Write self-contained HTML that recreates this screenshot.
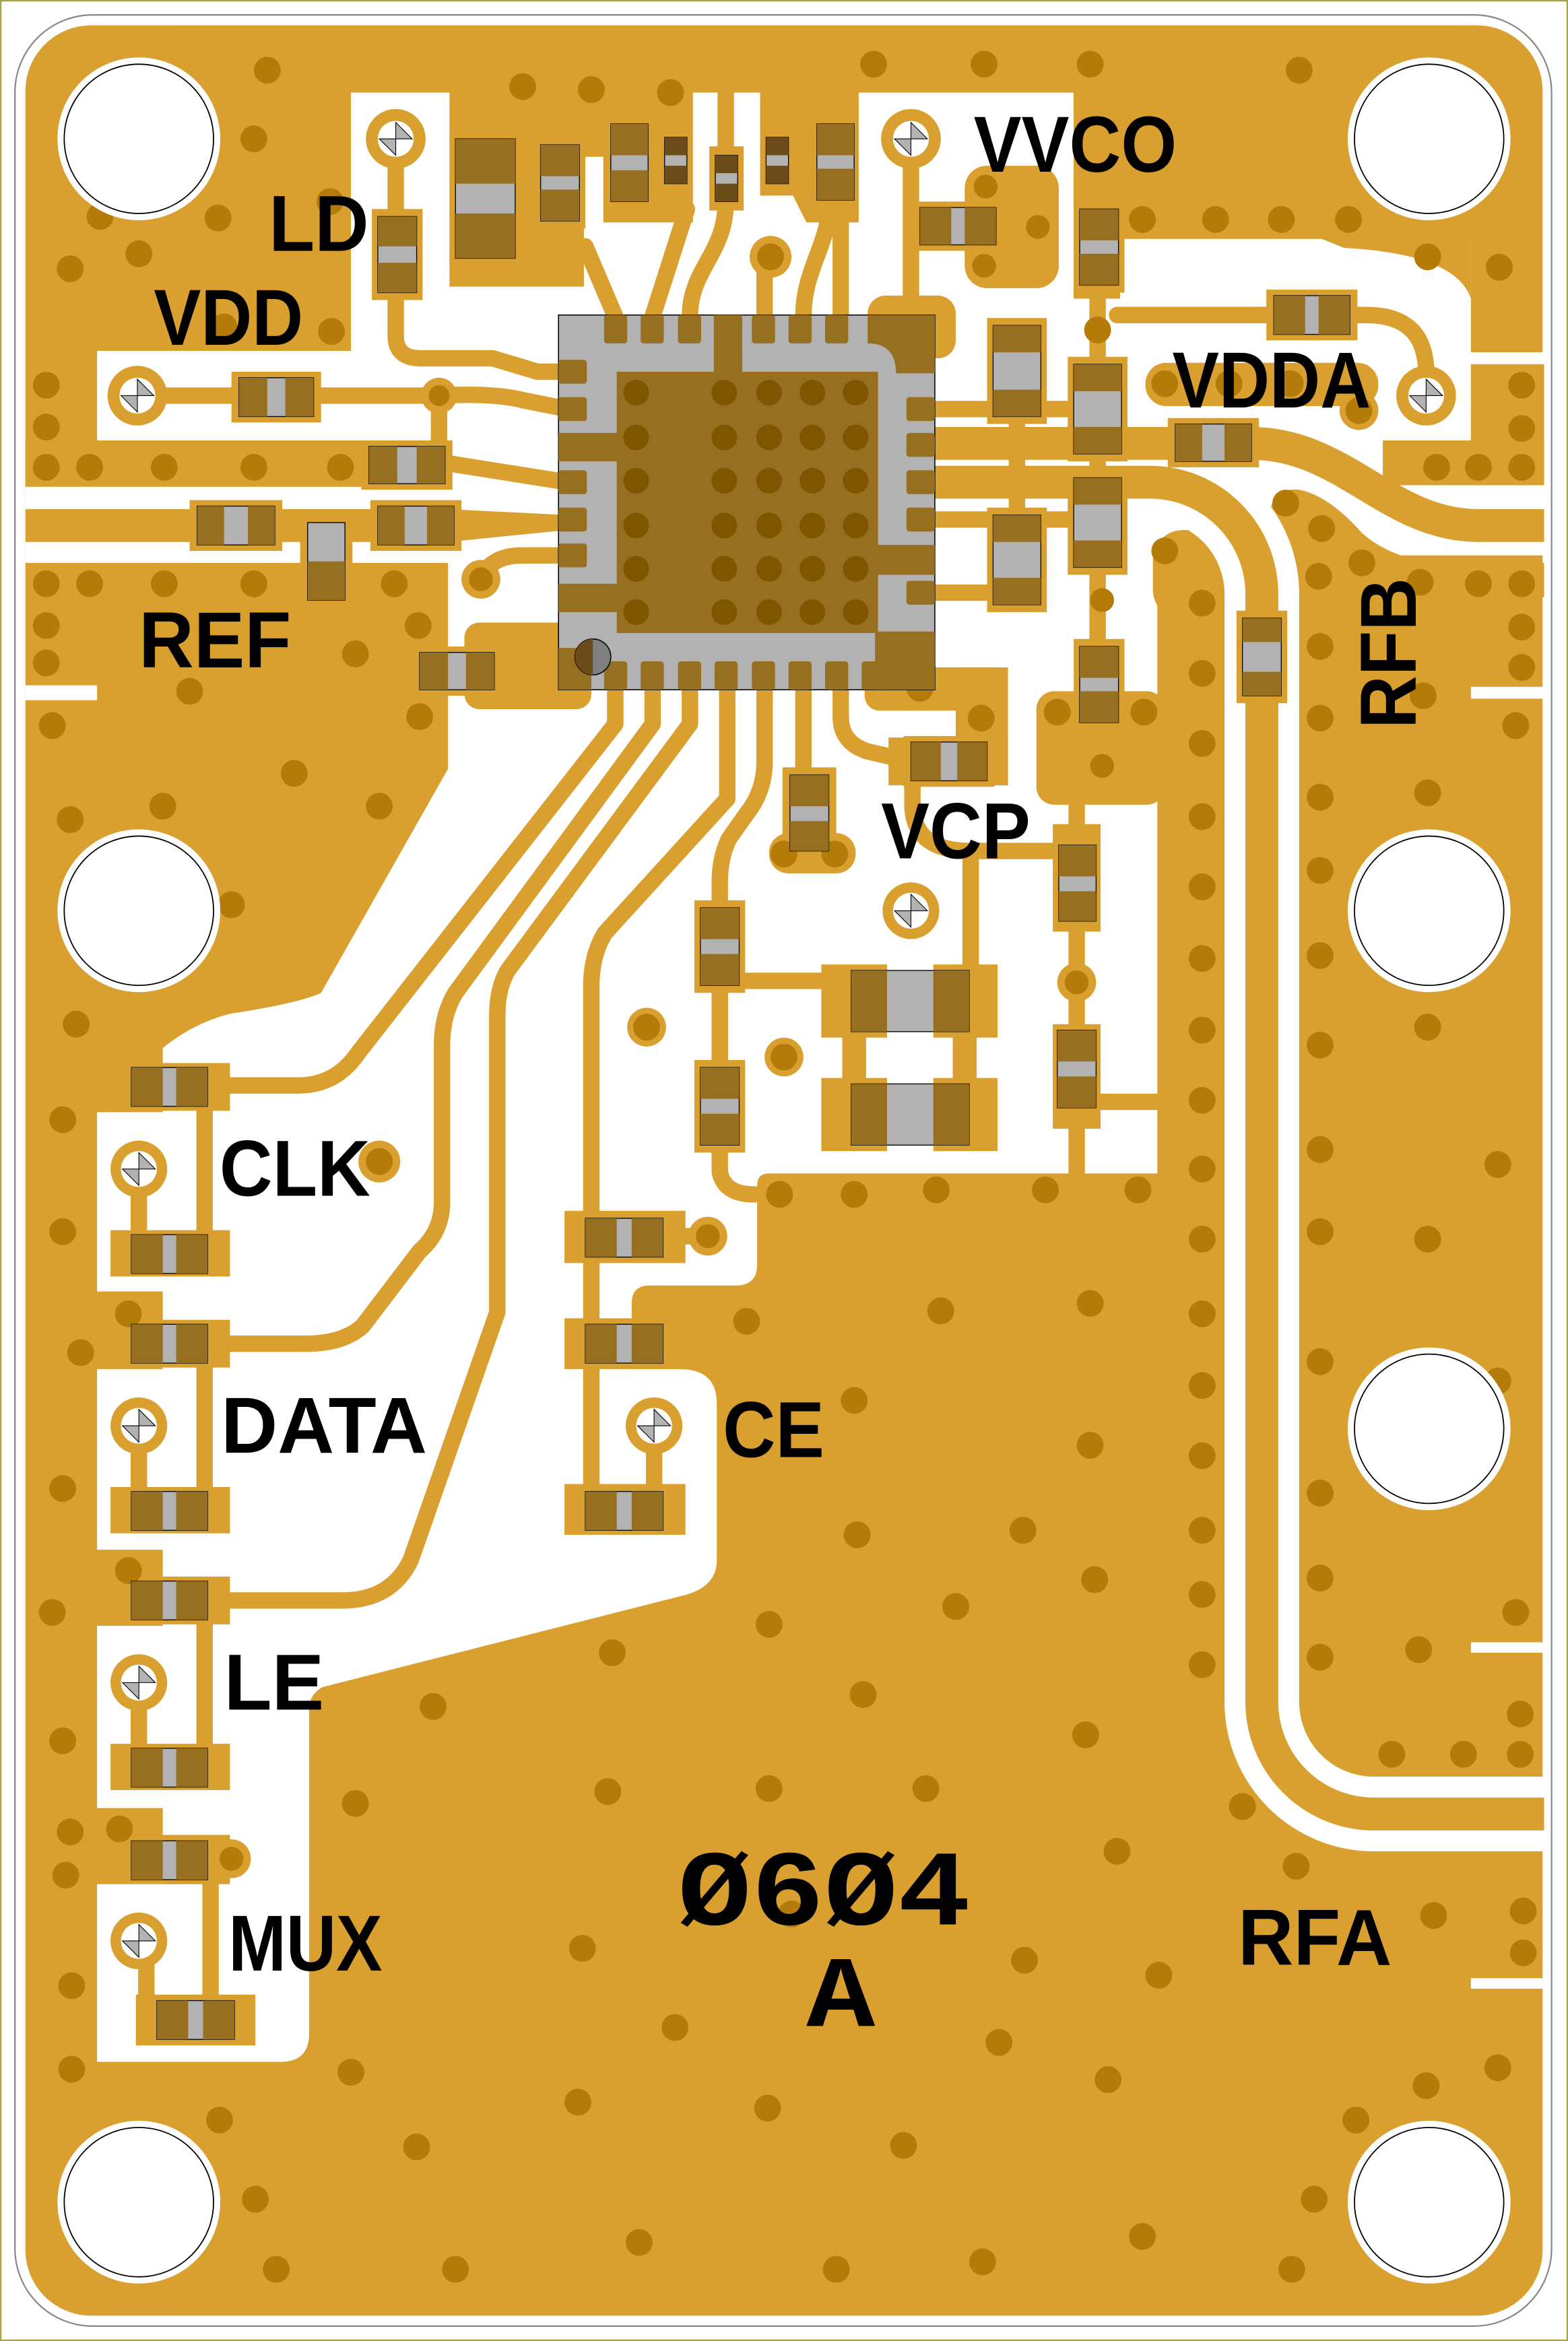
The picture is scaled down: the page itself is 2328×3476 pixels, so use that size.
<!DOCTYPE html>
<html><head><meta charset="utf-8"><style>
html,body{margin:0;padding:0;background:#fff}
svg{display:block}
.cg{fill:#B2B2B2;stroke:#000;stroke-width:.6}
.cd{fill:#967020}
.pd{fill:#D9A030}
.v{fill:#B47B08}
.t{stroke:#D9A030;fill:none;stroke-width:11;stroke-linecap:round;stroke-linejoin:round}
.lb{font-family:"Liberation Sans",sans-serif;font-weight:bold;font-size:53px;fill:#000}
</style></head><body>
<svg width="2328" height="3476" viewBox="0 0 1050 1568" preserveAspectRatio="none" xmlns="http://www.w3.org/2000/svg">
<rect x="0.5" y="0.5" width="1049" height="1567" fill="#fff" stroke="#a6a640" stroke-width="1"/>
<rect x="10" y="10" width="1029" height="1548" rx="52" fill="#fff" stroke="#888" stroke-width="1"/>
<rect x="17" y="17" width="1016" height="1534" rx="44" fill="#D9A030"/>

<!-- white cut region -->
<path fill="#fff" d="M235,62 H719 V200 H750 V160 H985 V236 H1034 V244 H985 V325 H1034 V372 H775 V786 H515 Q507,786 507,794 V847 Q507,861 493,861 H435 Q423,861 423,873 V917 H455 Q480,917 480,940 V1045 Q480,1062 460,1068 L216,1130 Q207,1135 207,1145 V1362 Q207,1381 188,1381 H65 V1262 H109 V1211 H65 V1089 H109 V1038 H65 V917 H109 V865 H65 V745 H109 V702 Q130,685 154,679 Q200,672 215,665 L300,515 V377 H17 V326 H300 V295 H65 V235 H235 Z"/>
<rect x="17" y="459" width="48" height="10" fill="#fff"/>
<rect x="985" y="460" width="49" height="8" fill="#fff"/>
<rect x="985" y="1100" width="49" height="7" fill="#fff"/>
<rect x="985" y="1325" width="49" height="7" fill="#fff"/>

<!-- gold blocks in white area -->
<g fill="#D9A030">
<path d="M880,158 H985 V200 Q975,170 900,166 Z"/>
<path d="M301,62 H464 V149 H404 V105 H391 V192 H301 Z"/>
<path d="M509,62 H575 V149 H540 L531,131 H509 Z"/>
<rect x="646" y="111" width="63" height="82" rx="15"/>
<rect x="719" y="62" width="31" height="138"/>
<rect x="581" y="198" width="59" height="42" rx="12"/>
<rect x="311" y="417" width="85" height="58" rx="10"/>
<rect x="579" y="447" width="96" height="29" rx="10"/>
<rect x="640" y="447" width="35" height="79"/>
<rect x="595" y="494" width="80" height="32"/>
<rect x="694" y="463" width="86" height="76" rx="12"/>
<rect x="767" y="243" width="156" height="29" rx="14"/>
<circle cx="910" cy="275" r="13"/>
<rect x="926" y="295" width="108" height="30"/>
<rect x="985" y="244" width="49" height="81"/>
<path d="M850,345 Q852,326 870,328 Q890,332 912,357 Q935,377 971,377 H1034 V400 H850 Z"/>
<rect x="772" y="355" width="48" height="60" rx="20"/>
<rect x="515" y="558" width="58" height="27" rx="13"/>
<rect x="550" y="646" width="44" height="49"/><rect x="625" y="646" width="43" height="49"/>
<rect x="550" y="722" width="44" height="49"/><rect x="625" y="722" width="43" height="49"/>
<rect x="564" y="690" width="16" height="40"/><rect x="638" y="690" width="16" height="40"/>
</g>

<!-- RFA channel + trace -->
<path d="M625,323 H770 A75,75 0 0 1 845,398 V1140 A75,75 0 0 0 920,1215 H1034" fill="none" stroke="#fff" stroke-width="50"/>
<path d="M625,323 H770 A75,75 0 0 1 845,398 V1140 A75,75 0 0 0 920,1215 H1034" fill="none" stroke="#D9A030" stroke-width="22"/>
<!-- RFB -->
<path d="M620,297 H838 C900,297 930,352 990,352 H1034" fill="none" stroke="#D9A030" stroke-width="22"/>
<!-- REF -->
<path d="M17,341 H300 L380,345 V355 L300,363 H17 Z" fill="#D9A030"/>
<rect x="17" y="295" width="283" height="31" fill="#D9A030"/>

<!-- traces -->
<g class="t">
<path d="M265,93 V225 Q265,240 282,240 H330 L360,249 H380"/>
<path d="M92,265 H294 Q330,263 350,268 L380,274"/>
<path d="M294,265 V305"/>
<path d="M298,310 L380,323"/>
<path d="M322,388 Q328,372 350,372 H380"/>
<path d="M412,212 L392,165"/>
<path d="M437,212 L460,140"/>
<path d="M462,212 C462,180 486,170 486,135 V62"/>
<path d="M512,212 V175"/>
<path d="M538,212 C538,180 555,165 556,134"/>
<path d="M563,212 V150"/>
<path d="M610,93 V200"/>
<path d="M610,151 H640"/>
<path d="M620,274 H735"/>
<path d="M620,348 H735"/>
<path d="M620,397 H681"/>
<path d="M735,191 V244 M735,304 V320 M735,380 V433 M681,279 V345"/>
<path d="M748,211 H860"/>
<path d="M904,211 H915 Q955,211 955,250"/>
<path d="M412,462 V485 L240,705 Q225,727 200,727 H150"/>
<path d="M437,462 V485 L305,665 Q296,680 296,700 V805 Q296,825 281,838 L243,888 Q230,900 205,900 H150"/>
<path d="M462,462 V485 L340,650 Q333,662 333,680 V879 L275,1045 Q262,1072 229,1072 H150"/>
<path d="M487,462 V535 L405,625 Q396,640 396,660 V1010"/>
<path d="M512,462 V510 Q512,530 500,545 L488,562 Q482,575 482,590 V785 Q485,800 505,800"/>
<path d="M538,462 V520"/>
<path d="M563,462 V480 Q563,497 580,503 L610,510"/>
<path d="M611,523 V540 Q612,570 650,570 H720"/>
<path d="M650,570 V650"/>
<path d="M482,660 V715"/>
<path d="M495,657 H555"/>
<path d="M721,540 V566 M721,617 V690 M721,742 V785 M737,738 H780"/>
<path d="M137,727 V840 M93,783 V830"/>
<path d="M137,900 V1012 M93,955 V1005"/>
<path d="M137,1072 V1184 M93,1127 V1178"/>
<path d="M141,1246 V1350 M98,1300 V1345"/>
<path d="M438,955 V1010 M443,828 H474"/>
</g>

<!-- pads -->
<g class="pd">
<rect x="155" y="249" width="60" height="34"/><rect x="242" y="295" width="61" height="33"/>
<rect x="127" y="335" width="62" height="34"/><rect x="248" y="335" width="61" height="34"/>
<rect x="276" y="433" width="60" height="33"/><rect x="611" y="135" width="61" height="33"/>
<rect x="848" y="194" width="61" height="34"/><rect x="782" y="280" width="61" height="33"/>
<rect x="605" y="493" width="61" height="34"/>
<rect x="109" y="712" width="45" height="32"/><rect x="74" y="824" width="80" height="31"/>
<rect x="109" y="884" width="45" height="32"/><rect x="74" y="996" width="80" height="31"/>
<rect x="109" y="1056" width="45" height="32"/><rect x="74" y="1168" width="80" height="31"/>
<rect x="109" y="1229" width="45" height="33"/><rect x="91" y="1336" width="80" height="34"/>
<rect x="378" y="811" width="81" height="35"/><rect x="378" y="883" width="81" height="34"/><rect x="378" y="994" width="81" height="34"/>
<rect x="249" y="140" width="34" height="61"/><rect x="301" y="88" width="48" height="90"/>
<rect x="358" y="92" width="34" height="61"/><rect x="719" y="135" width="34" height="61"/>
<rect x="661" y="213" width="40" height="71"/><rect x="715" y="239" width="40" height="70"/>
<rect x="715" y="315" width="40" height="70"/><rect x="661" y="340" width="40" height="70"/>
<rect x="719" y="428" width="34" height="61"/><rect x="828" y="409" width="34" height="62"/>
<rect x="524" y="514" width="36" height="61"/><rect x="705" y="552" width="32" height="72"/>
<rect x="465" y="603" width="34" height="62"/><rect x="465" y="710" width="34" height="62"/>
<rect x="705" y="686" width="32" height="70"/><rect x="201" y="345" width="35" height="62"/>
<rect x="475" y="98" width="23" height="43"/>
</g>

<!-- gold vias / test point blobs -->
<g fill="#D9A030">
<circle cx="294" cy="265" r="12"/><circle cx="322" cy="388" r="13"/>
<circle cx="516" cy="172" r="14"/><circle cx="721" cy="658" r="13"/>
<circle cx="433" cy="688" r="13"/><circle cx="525" cy="708" r="13"/>
<circle cx="254" cy="778" r="14"/><circle cx="474" cy="828" r="13"/>
<circle cx="155" cy="1245" r="13"/>
</g>

<!-- test points -->
<g>
<g fill="#D9A030"><circle cx="265" cy="93" r="20"/><circle cx="610" cy="93" r="20"/><circle cx="92" cy="265" r="20"/><circle cx="955" cy="265" r="20"/><circle cx="610" cy="610" r="19"/><circle cx="93" cy="783" r="19"/><circle cx="93" cy="955" r="19"/><circle cx="93" cy="1127" r="19"/><circle cx="93" cy="1300" r="19"/><circle cx="438" cy="955" r="19"/></g>
<g fill="#fff"><circle cx="265" cy="93" r="12"/><circle cx="610" cy="93" r="12"/><circle cx="92" cy="265" r="12"/><circle cx="955" cy="265" r="12"/><circle cx="610" cy="610" r="12"/><circle cx="93" cy="783" r="12"/><circle cx="93" cy="955" r="12"/><circle cx="93" cy="1127" r="12"/><circle cx="93" cy="1300" r="12"/><circle cx="438" cy="955" r="12"/></g>
<g fill="#B2B2B2" stroke="#000" stroke-width=".5">
<path d="M265,82 L276,93 H265Z M254,93 H265 V104Z"/>
<path d="M610,82 L621,93 H610Z M599,93 H610 V104Z"/>
<path d="M92,254 L103,265 H92Z M81,265 H92 V276Z"/>
<path d="M955,254 L966,265 H955Z M944,265 H955 V276Z"/>
<path d="M610,599 L621,610 H610Z M599,610 H610 V621Z"/>
<path d="M93,772 L104,783 H93Z M82,783 H93 V794Z"/>
<path d="M93,944 L104,955 H93Z M82,955 H93 V966Z"/>
<path d="M93,1116 L104,1127 H93Z M82,1127 H93 V1138Z"/>
<path d="M93,1289 L104,1300 H93Z M82,1300 H93 V1311Z"/>
<path d="M438,944 L449,955 H438Z M427,955 H438 V966Z"/>
</g></g>

<!-- vias -->
<g class="v">
<circle cx="179" cy="47" r="9"/><circle cx="350" cy="58" r="9"/><circle cx="396" cy="60" r="9"/><circle cx="449" cy="62" r="9"/>
<circle cx="585" cy="43" r="9"/><circle cx="659" cy="43" r="9"/><circle cx="730" cy="43" r="9"/><circle cx="870" cy="47" r="9"/>
<circle cx="170" cy="93" r="9"/><circle cx="146" cy="146" r="9"/><circle cx="93" cy="170" r="9"/><circle cx="47" cy="180" r="9"/>
<circle cx="221" cy="135" r="9"/><circle cx="150" cy="219" r="9"/><circle cx="222" cy="222" r="9"/><circle cx="67" cy="145" r="9"/>
<circle cx="660" cy="125" r="8"/><circle cx="695" cy="152" r="8"/><circle cx="659" cy="178" r="8"/>
<circle cx="765" cy="147" r="9"/><circle cx="814" cy="147" r="9"/><circle cx="858" cy="147" r="9"/><circle cx="903" cy="147" r="9"/>
<circle cx="956" cy="172" r="9"/><circle cx="1004" cy="179" r="9"/><circle cx="735" cy="221" r="9"/>
<circle cx="780" cy="257" r="9"/><circle cx="823" cy="257" r="9"/><circle cx="864" cy="257" r="9"/><circle cx="910" cy="275" r="9"/>
<circle cx="1019" cy="258" r="9"/><circle cx="1019" cy="287" r="9"/><circle cx="962" cy="313" r="9"/><circle cx="990" cy="313" r="9"/><circle cx="1019" cy="313" r="9"/>
<circle cx="861" cy="337" r="9"/><circle cx="885" cy="354" r="9"/><circle cx="912" cy="377" r="9"/><circle cx="883" cy="386" r="9"/><circle cx="951" cy="390" r="9"/><circle cx="990" cy="391" r="9"/><circle cx="1019" cy="391" r="9"/><circle cx="1019" cy="420" r="9"/><circle cx="1019" cy="447" r="9"/>
<circle cx="884" cy="433" r="9"/><circle cx="953" cy="466" r="9"/><circle cx="884" cy="481" r="9"/><circle cx="1015" cy="486" r="9"/><circle cx="884" cy="534" r="9"/><circle cx="956" cy="531" r="9"/><circle cx="884" cy="583" r="9"/><circle cx="884" cy="640" r="9"/><circle cx="884" cy="700" r="9"/><circle cx="956" cy="688" r="9"/><circle cx="884" cy="770" r="9"/><circle cx="1003" cy="780" r="9"/><circle cx="884" cy="825" r="9"/><circle cx="956" cy="830" r="9"/><circle cx="884" cy="912" r="9"/><circle cx="1003" cy="925" r="9"/><circle cx="884" cy="1000" r="9"/><circle cx="884" cy="1057" r="9"/><circle cx="1015" cy="1080" r="9"/><circle cx="950" cy="1105" r="9"/><circle cx="884" cy="1110" r="9"/><circle cx="1018" cy="1148" r="9"/><circle cx="932" cy="1175" r="9"/><circle cx="980" cy="1175" r="9"/><circle cx="1018" cy="1175" r="9"/>
<circle cx="780" cy="369" r="9"/><circle cx="805" cy="404" r="9"/><circle cx="805" cy="451" r="9"/><circle cx="805" cy="498" r="9"/><circle cx="805" cy="547" r="9"/><circle cx="805" cy="594" r="9"/><circle cx="805" cy="642" r="9"/><circle cx="805" cy="690" r="9"/><circle cx="805" cy="737" r="9"/><circle cx="805" cy="783" r="9"/><circle cx="805" cy="830" r="9"/><circle cx="805" cy="880" r="9"/><circle cx="805" cy="928" r="9"/><circle cx="805" cy="975" r="9"/><circle cx="805" cy="1025" r="9"/><circle cx="805" cy="1068" r="9"/><circle cx="805" cy="1115" r="9"/><circle cx="832" cy="1210" r="9"/>
<circle cx="738" cy="402" r="8"/><circle cx="708" cy="477" r="9"/><circle cx="766" cy="477" r="9"/><circle cx="738" cy="513" r="8"/><circle cx="616" cy="461" r="9"/><circle cx="657" cy="481" r="9"/><circle cx="525" cy="572" r="9"/><circle cx="559" cy="572" r="9"/>
<circle cx="294" cy="265" r="7"/><circle cx="322" cy="388" r="8"/><circle cx="516" cy="172" r="9"/><circle cx="721" cy="658" r="8"/><circle cx="433" cy="688" r="9"/><circle cx="525" cy="708" r="9"/><circle cx="254" cy="778" r="9"/><circle cx="474" cy="828" r="8"/><circle cx="155" cy="1245" r="8"/>
<circle cx="31" cy="258" r="9"/><circle cx="31" cy="286" r="9"/><circle cx="31" cy="313" r="9"/><circle cx="60" cy="313" r="9"/><circle cx="110" cy="313" r="9"/><circle cx="170" cy="313" r="9"/><circle cx="228" cy="313" r="9"/>
<circle cx="31" cy="391" r="9"/><circle cx="60" cy="391" r="9"/><circle cx="110" cy="391" r="9"/><circle cx="170" cy="391" r="9"/><circle cx="264" cy="391" r="9"/><circle cx="31" cy="419" r="9"/><circle cx="280" cy="419" r="9"/><circle cx="31" cy="444" r="9"/><circle cx="238" cy="438" r="9"/><circle cx="127" cy="463" r="9"/><circle cx="35" cy="486" r="9"/><circle cx="281" cy="480" r="9"/><circle cx="197" cy="518" r="9"/><circle cx="254" cy="540" r="9"/><circle cx="109" cy="540" r="9"/><circle cx="47" cy="549" r="9"/><circle cx="155" cy="606" r="9"/><circle cx="51" cy="686" r="9"/>
<circle cx="42" cy="750" r="9"/><circle cx="42" cy="825" r="9"/><circle cx="54" cy="906" r="9"/><circle cx="42" cy="997" r="9"/><circle cx="35" cy="1080" r="9"/><circle cx="42" cy="1166" r="9"/><circle cx="47" cy="1227" r="9"/><circle cx="44" cy="1256" r="9"/><circle cx="48" cy="1330" r="9"/><circle cx="48" cy="1386" r="9"/>
<circle cx="86" cy="880" r="9"/><circle cx="86" cy="1052" r="9"/><circle cx="80" cy="1225" r="9"/>
<circle cx="522" cy="800" r="9"/><circle cx="572" cy="800" r="9"/><circle cx="627" cy="797" r="9"/><circle cx="700" cy="797" r="9"/><circle cx="762" cy="797" r="9"/>
<circle cx="500" cy="885" r="9"/><circle cx="630" cy="878" r="9"/><circle cx="730" cy="873" r="9"/><circle cx="572" cy="938" r="9"/><circle cx="730" cy="968" r="9"/><circle cx="574" cy="1028" r="9"/><circle cx="685" cy="1025" r="9"/><circle cx="515" cy="1088" r="9"/><circle cx="640" cy="1076" r="9"/><circle cx="733" cy="1058" r="9"/><circle cx="410" cy="1107" r="9"/><circle cx="290" cy="1143" r="9"/><circle cx="578" cy="1135" r="9"/><circle cx="727" cy="1162" r="9"/>
<circle cx="238" cy="1208" r="9"/><circle cx="407" cy="1200" r="9"/><circle cx="515" cy="1198" r="9"/><circle cx="620" cy="1198" r="9"/><circle cx="748" cy="1240" r="9"/><circle cx="868" cy="1250" r="9"/><circle cx="960" cy="1283" r="9"/><circle cx="1020" cy="1280" r="9"/><circle cx="1020" cy="1308" r="9"/>
<circle cx="390" cy="1305" r="9"/><circle cx="530" cy="1282" r="9"/><circle cx="686" cy="1313" r="9"/><circle cx="776" cy="1323" r="9"/><circle cx="452" cy="1358" r="9"/><circle cx="669" cy="1368" r="9"/><circle cx="235" cy="1388" r="9"/><circle cx="387" cy="1408" r="9"/><circle cx="514" cy="1412" r="9"/><circle cx="605" cy="1437" r="9"/><circle cx="742" cy="1393" r="9"/><circle cx="908" cy="1420" r="9"/><circle cx="1003" cy="1385" r="9"/><circle cx="955" cy="1397" r="9"/><circle cx="147" cy="1420" r="9"/>
<circle cx="279" cy="1438" r="9"/><circle cx="171" cy="1473" r="9"/><circle cx="880" cy="1473" r="9"/><circle cx="185" cy="1520" r="9"/><circle cx="305" cy="1520" r="9"/><circle cx="428" cy="1502" r="9"/><circle cx="560" cy="1520" r="9"/><circle cx="658" cy="1515" r="9"/><circle cx="765" cy="1498" r="9"/><circle cx="865" cy="1520" r="9"/>
</g>

<!-- chip -->
<g>
<rect x="374" y="211" width="252" height="251" fill="#B2B2B2" stroke="#000" stroke-width=".7"/>
<g fill="#967020">
<rect x="413" y="249" width="175" height="175"/>
<rect x="478" y="211" width="19" height="40"/>
<rect x="374" y="290" width="40" height="19"/><rect x="374" y="391" width="40" height="19"/>
<rect x="586" y="365" width="40" height="20"/>
<path d="M581,211 H626 V250 H600 Q600,230 581,230 Z"/>
<rect x="586" y="423" width="40" height="39"/>
<rect x="374" y="434" width="22" height="28"/>
<rect x="404.5" y="211" width="15.5" height="19" rx="2"/><rect x="429" y="211" width="15.5" height="19" rx="2"/><rect x="454" y="211" width="15.5" height="19" rx="2"/><rect x="503.5" y="211" width="15.5" height="19" rx="2"/><rect x="528" y="211" width="15.5" height="19" rx="2"/><rect x="552.5" y="211" width="15.5" height="19" rx="2"/>
<rect x="404.5" y="443" width="15.5" height="19" rx="2"/><rect x="429" y="443" width="15.5" height="19" rx="2"/><rect x="454" y="443" width="15.5" height="19" rx="2"/><rect x="478.5" y="443" width="15.5" height="19" rx="2"/><rect x="503.5" y="443" width="15.5" height="19" rx="2"/><rect x="528" y="443" width="15.5" height="19" rx="2"/><rect x="552.5" y="443" width="15.5" height="19" rx="2"/><rect x="577" y="443" width="20" height="19" rx="2"/>
<rect x="374" y="241" width="19" height="16" rx="2"/><rect x="374" y="266" width="19" height="16" rx="2"/><rect x="374" y="315" width="19" height="16" rx="2"/><rect x="374" y="340" width="19" height="16" rx="2"/><rect x="374" y="364" width="19" height="16" rx="2"/>
<rect x="607" y="266" width="19" height="16" rx="2"/><rect x="607" y="290" width="19" height="16" rx="2"/><rect x="607" y="315" width="19" height="16" rx="2"/><rect x="607" y="340" width="19" height="16" rx="2"/><rect x="607" y="389" width="19" height="16" rx="2"/>
</g>
<g fill="#805500">
<circle cx="426" cy="263" r="8.6"/><circle cx="485" cy="263" r="8.6"/><circle cx="515" cy="263" r="8.6"/><circle cx="544" cy="263" r="8.6"/><circle cx="573" cy="263" r="8.6"/>
<circle cx="426" cy="293" r="8.6"/><circle cx="485" cy="293" r="8.6"/><circle cx="515" cy="293" r="8.6"/><circle cx="544" cy="293" r="8.6"/><circle cx="573" cy="293" r="8.6"/>
<circle cx="426" cy="322" r="8.6"/><circle cx="485" cy="322" r="8.6"/><circle cx="515" cy="322" r="8.6"/><circle cx="544" cy="322" r="8.6"/><circle cx="573" cy="322" r="8.6"/>
<circle cx="426" cy="352" r="8.6"/><circle cx="485" cy="352" r="8.6"/><circle cx="515" cy="352" r="8.6"/><circle cx="544" cy="352" r="8.6"/><circle cx="573" cy="352" r="8.6"/>
<circle cx="426" cy="381" r="8.6"/><circle cx="485" cy="381" r="8.6"/><circle cx="515" cy="381" r="8.6"/><circle cx="544" cy="381" r="8.6"/><circle cx="573" cy="381" r="8.6"/>
<circle cx="426" cy="410" r="8.6"/><circle cx="485" cy="410" r="8.6"/><circle cx="515" cy="410" r="8.6"/><circle cx="544" cy="410" r="8.6"/><circle cx="573" cy="410" r="8.6"/>
</g>
<circle cx="397" cy="440" r="12" fill="#808080" stroke="#000" stroke-width=".7"/>
<path d="M397,428 A12,12 0 0 0 397,452 Z" fill="#6b4c1a"/>
</g>

<!-- components horizontal -->
<g>
<rect class="cg" x="160" y="253" width="50" height="26"/><rect class="cd" x="160" y="253" width="19" height="26"/><rect class="cd" x="191" y="253" width="19" height="26"/>
<rect class="cg" x="247" y="299" width="51" height="25"/><rect class="cd" x="247" y="299" width="19" height="25"/><rect class="cd" x="279" y="299" width="19" height="25"/>
<rect class="cg" x="132" y="339" width="52" height="26"/><rect class="cd" x="132" y="339" width="18" height="26"/><rect class="cd" x="166" y="339" width="18" height="26"/>
<rect class="cg" x="253" y="339" width="51" height="26"/><rect class="cd" x="253" y="339" width="18" height="26"/><rect class="cd" x="286" y="339" width="18" height="26"/>
<rect class="cg" x="281" y="437" width="50" height="25"/><rect class="cd" x="281" y="437" width="19" height="25"/><rect class="cd" x="312" y="437" width="19" height="25"/>
<rect class="cg" x="616" y="139" width="51" height="25"/><rect class="cd" x="616" y="139" width="21" height="25"/><rect class="cd" x="646" y="139" width="21" height="25"/>
<rect class="cg" x="853" y="198" width="51" height="26"/><rect class="cd" x="853" y="198" width="21" height="26"/><rect class="cd" x="883" y="198" width="21" height="26"/>
<rect class="cg" x="787" y="284" width="51" height="25"/><rect class="cd" x="787" y="284" width="18" height="25"/><rect class="cd" x="820" y="284" width="18" height="25"/>
<rect class="cg" x="610" y="497" width="51" height="26"/><rect class="cd" x="610" y="497" width="20" height="26"/><rect class="cd" x="641" y="497" width="20" height="26"/>
<rect class="cg" x="570" y="650" width="79" height="41"/><rect class="cd" x="570" y="650" width="24" height="41"/><rect class="cd" x="625" y="650" width="24" height="41"/>
<rect class="cg" x="570" y="726" width="79" height="41"/><rect class="cd" x="570" y="726" width="24" height="41"/><rect class="cd" x="625" y="726" width="24" height="41"/>
<rect class="cg" x="88" y="715" width="51" height="26"/><rect class="cd" x="88" y="715" width="21" height="26"/><rect class="cd" x="118" y="715" width="21" height="26"/>
<rect class="cg" x="88" y="827" width="51" height="26"/><rect class="cd" x="88" y="827" width="21" height="26"/><rect class="cd" x="118" y="827" width="21" height="26"/>
<rect class="cg" x="88" y="887" width="51" height="26"/><rect class="cd" x="88" y="887" width="21" height="26"/><rect class="cd" x="118" y="887" width="21" height="26"/>
<rect class="cg" x="88" y="999" width="51" height="26"/><rect class="cd" x="88" y="999" width="21" height="26"/><rect class="cd" x="118" y="999" width="21" height="26"/>
<rect class="cg" x="88" y="1059" width="51" height="26"/><rect class="cd" x="88" y="1059" width="21" height="26"/><rect class="cd" x="118" y="1059" width="21" height="26"/>
<rect class="cg" x="88" y="1171" width="51" height="26"/><rect class="cd" x="88" y="1171" width="21" height="26"/><rect class="cd" x="118" y="1171" width="21" height="26"/>
<rect class="cg" x="88" y="1233" width="51" height="26"/><rect class="cd" x="88" y="1233" width="21" height="26"/><rect class="cd" x="118" y="1233" width="21" height="26"/>
<rect class="cg" x="105" y="1340" width="52" height="26"/><rect class="cd" x="105" y="1340" width="21" height="26"/><rect class="cd" x="136" y="1340" width="21" height="26"/>
<rect class="cg" x="392" y="816" width="52" height="26"/><rect class="cd" x="392" y="816" width="21" height="26"/><rect class="cd" x="423" y="816" width="21" height="26"/>
<rect class="cg" x="392" y="887" width="52" height="26"/><rect class="cd" x="392" y="887" width="21" height="26"/><rect class="cd" x="423" y="887" width="21" height="26"/>
<rect class="cg" x="392" y="999" width="52" height="26"/><rect class="cd" x="392" y="999" width="21" height="26"/><rect class="cd" x="423" y="999" width="21" height="26"/>
</g>
<!-- components vertical -->
<g>
<rect class="cg" x="253" y="145" width="26" height="51"/><rect class="cd" x="253" y="145" width="26" height="20"/><rect class="cd" x="253" y="176" width="26" height="20"/>
<rect class="cg" x="305" y="93" width="40" height="80"/><rect class="cd" x="305" y="93" width="40" height="30"/><rect class="cd" x="305" y="143" width="40" height="30"/>
<rect class="cg" x="362" y="97" width="26" height="51"/><rect class="cd" x="362" y="97" width="26" height="21"/><rect class="cd" x="362" y="127" width="26" height="21"/>
<rect class="cg" x="409" y="83" width="25" height="52"/><rect class="cd" x="409" y="83" width="25" height="21"/><rect class="cd" x="409" y="114" width="25" height="21"/>
<rect class="cg" x="445" y="92" width="15" height="31"/><rect x="445" y="92" width="15" height="12" style="fill:#6b4c1a"/><rect x="445" y="111" width="15" height="12" style="fill:#6b4c1a"/>
<rect class="cg" x="479" y="104" width="15" height="31"/><rect x="479" y="104" width="15" height="12" style="fill:#6b4c1a"/><rect x="479" y="123" width="15" height="12" style="fill:#6b4c1a"/>
<rect class="cg" x="513" y="92" width="15" height="31"/><rect x="513" y="92" width="15" height="12" style="fill:#6b4c1a"/><rect x="513" y="111" width="15" height="12" style="fill:#6b4c1a"/>
<rect class="cg" x="547" y="83" width="25" height="51"/><rect class="cd" x="547" y="83" width="25" height="21"/><rect class="cd" x="547" y="113" width="25" height="21"/>
<rect class="cg" x="723" y="140" width="26" height="51"/><rect class="cd" x="723" y="140" width="26" height="21"/><rect class="cd" x="723" y="170" width="26" height="21"/>
<rect class="cg" x="665" y="218" width="32" height="61"/><rect class="cd" x="665" y="218" width="32" height="18"/><rect class="cd" x="665" y="261" width="32" height="18"/>
<rect class="cg" x="719" y="244" width="32" height="60"/><rect class="cd" x="719" y="244" width="32" height="18"/><rect class="cd" x="719" y="286" width="32" height="18"/>
<rect class="cg" x="719" y="320" width="32" height="60"/><rect class="cd" x="719" y="320" width="32" height="18"/><rect class="cd" x="719" y="362" width="32" height="18"/>
<rect class="cg" x="665" y="345" width="32" height="60"/><rect class="cd" x="665" y="345" width="32" height="18"/><rect class="cd" x="665" y="387" width="32" height="18"/>
<rect class="cg" x="723" y="433" width="26" height="51"/><rect class="cd" x="723" y="433" width="26" height="21"/><rect class="cd" x="723" y="463" width="26" height="21"/>
<rect class="cg" x="832" y="414" width="26" height="52"/><rect class="cd" x="832" y="414" width="26" height="16"/><rect class="cd" x="832" y="450" width="26" height="16"/>
<rect class="cg" x="529" y="519" width="26" height="51"/><rect class="cd" x="529" y="519" width="26" height="21"/><rect class="cd" x="529" y="550" width="26" height="20"/>
<rect class="cg" x="709" y="566" width="25" height="51"/><rect class="cd" x="709" y="566" width="25" height="21"/><rect class="cd" x="709" y="597" width="25" height="20"/>
<rect class="cg" x="469" y="608" width="26" height="52"/><rect class="cd" x="469" y="608" width="26" height="21"/><rect class="cd" x="469" y="639" width="26" height="21"/>
<rect class="cg" x="469" y="715" width="26" height="52"/><rect class="cd" x="469" y="715" width="26" height="21"/><rect class="cd" x="469" y="746" width="26" height="21"/>
<rect class="cg" x="708" y="690" width="26" height="52"/><rect class="cd" x="708" y="690" width="26" height="21"/><rect class="cd" x="708" y="721" width="26" height="21"/>
<rect class="cg" x="206" y="350" width="25" height="52"/><rect class="cd" x="206" y="376" width="25" height="26"/>
</g>

<!-- mounting holes -->
<g fill="#fff" stroke="#fff" stroke-width="3">
<circle cx="93" cy="93" r="53"/><circle cx="957" cy="93" r="53"/><circle cx="93" cy="610" r="53"/><circle cx="957" cy="610" r="53"/><circle cx="957" cy="957" r="53"/><circle cx="93" cy="1475" r="53"/><circle cx="957" cy="1475" r="53"/>
</g>
<g fill="none" stroke="#000" stroke-width=".8">
<circle cx="93" cy="93" r="50"/><circle cx="957" cy="93" r="50"/><circle cx="93" cy="610" r="50"/><circle cx="957" cy="610" r="50"/><circle cx="957" cy="957" r="50"/><circle cx="93" cy="1475" r="50"/><circle cx="957" cy="1475" r="50"/>
</g>

<!-- labels -->
<g class="lb">
<text x="180" y="168" textLength="67" lengthAdjust="spacingAndGlyphs">LD</text>
<text x="103" y="231" textLength="100" lengthAdjust="spacingAndGlyphs">VDD</text>
<text x="652" y="115" textLength="136" lengthAdjust="spacingAndGlyphs">VVCO</text>
<text x="785" y="273" textLength="133" lengthAdjust="spacingAndGlyphs">VDDA</text>
<text x="93" y="447" textLength="102" lengthAdjust="spacingAndGlyphs">REF</text>
<text transform="translate(948,488) rotate(-90)" textLength="101" lengthAdjust="spacingAndGlyphs">RFB</text>
<text x="590" y="575" textLength="100" lengthAdjust="spacingAndGlyphs">VCP</text>
<text x="147" y="801" textLength="101" lengthAdjust="spacingAndGlyphs">CLK</text>
<text x="148" y="973" textLength="138" lengthAdjust="spacingAndGlyphs">DATA</text>
<text x="484" y="976" textLength="68" lengthAdjust="spacingAndGlyphs">CE</text>
<text x="150" y="1145" textLength="67" lengthAdjust="spacingAndGlyphs">LE</text>
<text x="153" y="1320" textLength="103" lengthAdjust="spacingAndGlyphs">MUX</text>
<text x="829" y="1316" textLength="103" lengthAdjust="spacingAndGlyphs">RFA</text>
</g>
<text x="454" y="1289" font-family="'Liberation Mono',monospace" font-weight="bold" font-size="72" textLength="196" lengthAdjust="spacingAndGlyphs">Ø6Ø4</text>
<text x="540" y="1357" font-family="'Liberation Mono',monospace" font-weight="bold" font-size="68" textLength="46" lengthAdjust="spacingAndGlyphs">A</text>
</svg>
</body></html>
